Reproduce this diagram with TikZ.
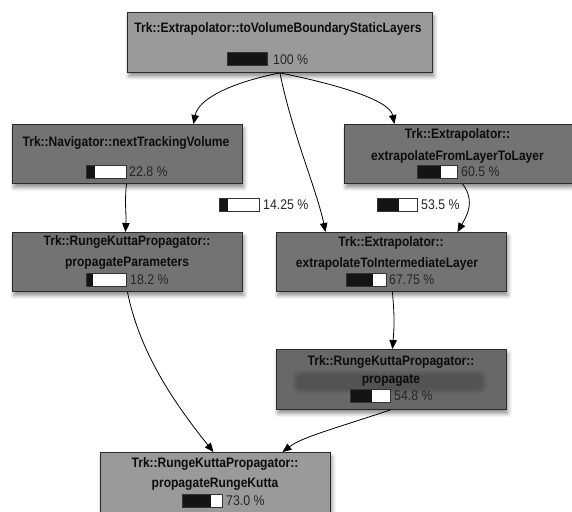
\documentclass[tikz,border=0pt]{standalone}
\usepackage{fontspec}
\setmainfont{Liberation Sans}
\newfontfamily\narrowfont[FakeStretch=0.88]{Liberation Sans}
\usetikzlibrary{arrows.meta,shadows.blur,calc}
\definecolor{lightbox}{HTML}{9A9A9A}
\definecolor{darkbox}{HTML}{737373}
\definecolor{darkerbox}{HTML}{686868}
\definecolor{boxline}{HTML}{2A2A2A}
\definecolor{barblack}{HTML}{141414}
\definecolor{barline}{HTML}{333333}
\tikzset{
  box/.style={draw=boxline, line width=0.9pt, rectangle, inner sep=0pt, anchor=north west,
    blur shadow={shadow xshift=1.5pt, shadow yshift=-4pt, shadow blur radius=4pt, shadow opacity=45}},
  ttl/.style={font=\narrowfont\bfseries\fontsize{13.7}{15}\selectfont, text=black!95, inner sep=0pt, anchor=base},
  pct/.style={font=\narrowfont\fontsize{14}{15}\selectfont, text=black!85, inner sep=0pt, anchor=west},
  conn/.style={-{Triangle[length=9pt,width=7.5pt]}, line width=0.8pt, black},
}
\newcommand{\pbar}[6]{% name, x, y, fraction, text x, text
  \fill[white] (#2,#3) rectangle ++(40,13);
  \fill[barblack] (#2,#3) rectangle ++({40*#4},13);
  \draw[barline, line width=0.8pt] (#2,#3) rectangle ++(40,13);
  \node[pct] (#1) at (#5,{#3+7}) {#6};
}
\begin{document}
\begin{tikzpicture}[x=1pt,y=-1pt]
\useasboundingbox (0,0) rectangle (572,511);
\clip (0,0) rectangle (572,511);
% boxes
\node[box, fill=lightbox, minimum width=305pt, minimum height=60pt] (top) at (127,12) {};
\node[box, fill=darkbox, minimum width=230pt, minimum height=59pt] (nav) at (12,124) {};
\node[box, fill=darkbox, minimum width=228pt, minimum height=59pt] (fll) at (344,124) {};
\node[box, fill=darkbox, minimum width=230pt, minimum height=59pt] (pp) at (12,232) {};
\node[box, fill=darkbox, minimum width=230pt, minimum height=59pt] (til) at (276,232) {};
\node[box, fill=darkerbox, minimum width=230pt, minimum height=60pt] (prop) at (276,349) {};
\node[box, fill=lightbox, minimum width=230pt, minimum height=75pt] (prk) at (100,452) {};
% blurred band in propagate box
\foreach \o in {0,1.5,3,4.5} {
  \fill[black, opacity=0.05, rounded corners=6pt] ({297-\o},{375-\o}) rectangle ({482+\o},{389+\o});
}
% titles
\node[ttl] (topT) at (278,33) {Trk::Extrapolator::toVolumeBoundaryStaticLayers};
\node[ttl] (navT) at (126,146) {Trk::Navigator::nextTrackingVolume};
\node[ttl] (fllT1) at (457.5,138) {Trk::Extrapolator::};
\node[ttl] (fllT2) at (457.5,160.5) {extrapolateFromLayerToLayer};
\node[ttl] (ppT1) at (127,245) {Trk::RungeKuttaPropagator::};
\node[ttl] (ppT2) at (127,266.5) {propagateParameters};
\node[ttl] (tilT1) at (391,246) {Trk::Extrapolator::};
\node[ttl] (tilT2) at (387,267) {extrapolateToIntermediateLayer};
\node[ttl] (propT1) at (391,365) {Trk::RungeKuttaPropagator::};
\node[ttl] (propT2) at (391,383) {propagate};
\node[ttl] (prkT1) at (215,467) {Trk::RungeKuttaPropagator::};
\node[ttl] (prkT2) at (215,487) {propagateRungeKutta};
% bars
\pbar{topP}{227}{52.5}{1}{273}{100 \%}
\pbar{navP}{86}{165}{0.228}{129}{22.8 \%}
\pbar{fllP}{417}{165}{0.605}{461}{60.5 \%}
\pbar{ppP}{86}{273}{0.182}{130}{18.2 \%}
\pbar{tilP}{346}{273}{0.6775}{389}{67.75 \%}
\pbar{propP}{350}{389}{0.548}{394}{54.8 \%}
\pbar{prkP}{182}{494}{0.73}{226}{73.0 \%}
\pbar{e1P}{219}{198}{0.22}{263}{14.25 \%}
\pbar{e2P}{377}{198}{0.55}{421}{53.5 \%}
% connectors
\draw[conn] (top.south) .. controls ++(-50,10) and ++(5,-25) .. ([xshift=66pt]nav.north);
\draw[conn] (top.south) .. controls ++(50,10) and ++(-5,-25) .. ([xshift=-64pt]fll.north);
\draw[conn] (top.south) .. controls ++(12,60) and ++(-8,-40) .. ([xshift=-66pt]til.north);
\draw[conn] ([xshift=-1pt]nav.south) .. controls ++(-2,20) and ++(1,-20) .. ([xshift=-2pt]pp.north);
\draw[conn] ([xshift=4pt]fll.south) .. controls ++(14,18) and ++(8,-14) .. ([xshift=66pt]til.north);
\draw[conn] ([xshift=1pt]til.south) .. controls ++(2,25) and ++(2,-25) .. ([xshift=1pt]prop.north);
\draw[conn] (pp.south) .. controls ++(12,60) and ++(-40,-50) .. ([xshift=-2pt]prk.north);
\draw[conn] ([xshift=-1pt]prop.south) .. controls ++(-60,20) and ++(20,-15) .. ([xshift=67pt]prk.north);
\end{tikzpicture}
\end{document}
